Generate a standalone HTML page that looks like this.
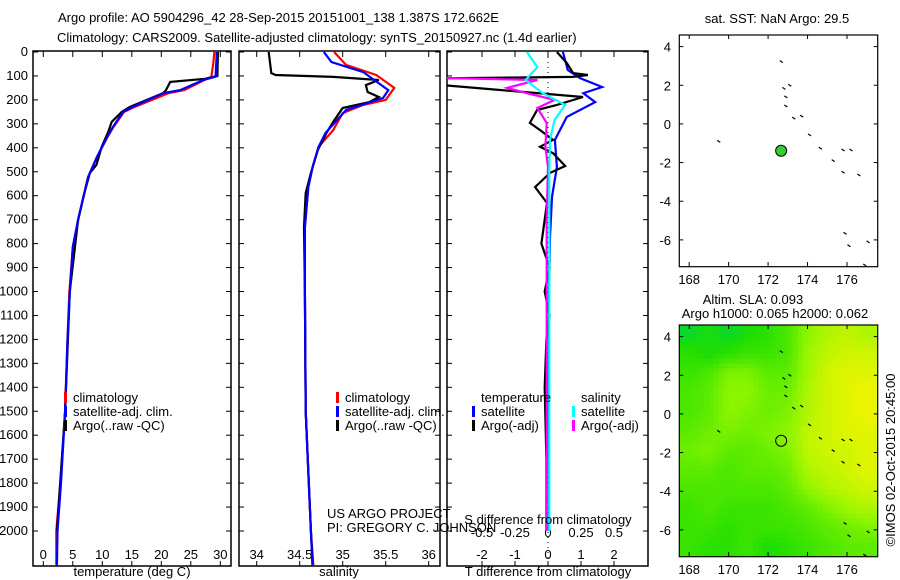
<!DOCTYPE html>
<html><head><meta charset="utf-8"><style>
body{margin:0;background:#fff}
svg{display:block;font-family:"Liberation Sans",sans-serif;font-size:13px}
</style></head><body>
<svg id="s" width="900" height="580" viewBox="0 0 900 580">
<text x="58" y="22">Argo profile: AO 5904296_42 28-Sep-2015 20151001_138 1.387S 172.662E</text>
<text x="57" y="42">Climatology: CARS2009. Satellite-adjusted climatology: synTS_20150927.nc (1.4d earlier)</text>
<g id="g"></g>
</svg>
<script>
// ---------- data ----------
const tDepth=[0,50,103,117,159,172,229,250,313,355,438,522,605,701,814,1006,1200,1500,1800,2000,2150];
const tSat=[29.4,29.3,29.2,27.1,23.2,20.3,15.2,13.5,11.8,10.8,9.1,7.6,6.8,5.9,5.0,4.5,4.1,3.7,3.0,2.4,2.3];
const tClim=[29.0,28.8,28.5,27.3,23.9,21.2,15.5,13.7,11.9,10.9,9.1,7.6,6.8,5.9,5.0,4.4,4.1,3.7,2.9,2.2,2.2];
const argoTDepth=[0,100,112,125,159,172,229,250,292,334,396,472,505,576,700,1000,1500,2000];
const argoT=[29.6,29.5,27.4,21.5,20.8,20.3,14.7,13.3,11.6,11.0,9.9,9.0,7.9,7.1,5.9,4.5,3.7,2.3];
const sArgoDepth=[0,88,96,104,117,138,167,188,209,234,292,338,409,505,589,731,1000,1500,2000,2150];
const sArgo=[34.14,34.17,34.22,34.89,35.42,35.27,35.29,35.42,35.31,35.0,34.89,34.81,34.71,34.63,34.57,34.55,34.56,34.57,34.63,34.65];
const sDepth=[0,54,96,150,200,221,255,326,396,480,564,731,1000,1500,2000,2150];
const sClim=[34.9,35.04,35.39,35.6,35.5,35.24,35.0,34.89,34.72,34.65,34.6,34.56,34.56,34.57,34.63,34.66];
const sSatDepth=[0,42,84,159,192,242,338,396,480,564,731,1000,1500,2000,2150];
const sSat=[34.78,34.87,35.24,35.53,35.47,35.04,34.8,34.72,34.65,34.6,34.56,34.56,34.57,34.63,34.65];
const dTSatDepth=[0,75,109,146,172,209,271,367,480,605,772,1000,1500,2000];
const dTSat=[0.45,0.6,0.97,1.64,1.07,1.43,0.57,0.21,0.27,0.12,0.06,0.03,0.02,0.03];
const dTArgoDepth=[0,46,88,96,104,110,113,138,188,221,242,296,326,367,396,422,476,505,564,630,700,800,900,1000,1100,1200,1400,1700,2000];
const dTArgo=[0.27,0.57,0.76,1.21,0.76,-3.2,-3.2,-3.2,1.06,0.27,-0.33,-0.55,-0.24,0.15,-0.24,0.15,0.52,0.06,-0.39,-0.03,-0.1,-0.2,0.05,-0.1,0.05,-0.05,-0.1,-0.05,-0.05];
const dSSatDepth=[0,63,117,172,221,284,367,500,1000,1500,2000];
const dSSat=[-0.16,-0.08,-0.17,-0.04,0.13,0.05,0.015,0.01,0.01,0.01,0.01];
const dSArgoDepth=[0,100,109,117,150,172,200,234,296,396,480,700,1000,1500,2000];
const dSArgo=[-0.8,-0.8,-0.78,-0.08,-0.31,-0.16,0.05,-0.08,-0.01,-0.02,0,-0.01,-0.01,-0.01,-0.01];
const depthTicks=[0,100,200,300,400,500,600,700,800,900,1000,1100,1200,1300,1400,1500,1600,1700,1800,1900,2000];
const tTicks=[0,5,10,15,20,25,30];
const sTicks=[34,34.5,35,35.5,36];
const dTTicks=[-2,-1,0,1,2];
const dSTicks=[-0.5,-0.25,0,0.25,0.5];
const dSLabels=["-0.5","-0.25","0","0.25","0.5"];
const lonTicks=[168,170,172,174,176];
const latTicks=[4,2,0,-2,-4,-6];
const floatLon=172.662, floatLat=-1.387;
const islands=[[172.67,3.22],[172.8,1.84],[172.9,1.4],[173.1,2.0],[172.9,0.93],[173.3,0.3],[173.7,0.4],[174.1,-0.57],[174.65,-1.26],[175.3,-1.9],[175.8,-1.35],[176.2,-1.35],[175.8,-2.5],[176.6,-2.64],[175.9,-5.66],[176.1,-6.3],[177.07,-6.1],[176.9,-7.3],[169.5,-0.9]];
const sla=[
[0.25,0.3,0.25,0.3,0.35,0.45,0.65,0.75,0.8,0.75],
[0.35,0.3,0.35,0.4,0.4,0.45,0.7,0.8,0.85,0.85],
[0.4,0.45,0.6,0.6,0.5,0.5,0.7,0.85,0.9,0.9],
[0.45,0.5,0.65,0.65,0.55,0.55,0.75,0.85,0.9,0.95],
[0.45,0.5,0.65,0.6,0.55,0.6,0.75,0.85,0.9,0.95],
[0.5,0.55,0.6,0.55,0.6,0.65,0.8,0.85,0.9,0.9],
[0.55,0.6,0.5,0.5,0.55,0.6,0.8,0.85,0.85,0.9],
[0.5,0.5,0.45,0.5,0.5,0.55,0.75,0.8,0.85,0.9],
[0.45,0.45,0.45,0.45,0.45,0.5,0.65,0.75,0.8,0.85],
[0.4,0.45,0.4,0.4,0.4,0.45,0.5,0.6,0.7,0.75],
[0.4,0.4,0.35,0.4,0.4,0.4,0.45,0.5,0.55,0.6],
[0.4,0.35,0.35,0.4,0.3,0.35,0.4,0.45,0.5,0.5]];
// ---------- drawing ----------
const NS="http://www.w3.org/2000/svg", G=document.getElementById('g');
function el(t,a,p){const e=document.createElementNS(NS,t);for(const k in a)e.setAttribute(k,a[k]);(p||G).appendChild(e);return e;}
function txt(x,y,s,anchor,p){const e=el('text',{x:x,y:y,'text-anchor':anchor||'start'},p);e.textContent=s;return e;}
const TOP=52,BOT=566;
const yD=d=>TOP+d*0.2395;
const panels=[
 {x0:33,x1:231,fx:v=>43.3+v*5.9,name:'temperature-panel'},
 {x0:239,x1:440,fx:v=>256.7+(v-34)*86,name:'salinity-panel'},
 {x0:447,x1:648,fx:v=>548+v*33,name:'difference-panel'}];
const defs=el('defs',{});
panels.forEach((p,i)=>{const c=el('clipPath',{id:'c'+i},defs);el('rect',{x:p.x0,y:TOP-1,width:p.x1-p.x0,height:BOT-TOP+1},c);});
function line(pi,xs,ds,fx,color,name){
  const pts=xs.map((v,i)=>fx(v).toFixed(1)+','+yD(ds[i]).toFixed(1)).join(' ');
  const e=el('polyline',{points:pts,fill:'none',stroke:color,'stroke-width':2.2,'clip-path':'url(#c'+pi+')'});
  
  
}
panels.forEach((p,i)=>{
  const f=el('rect',{x:p.x0,y:TOP-1,width:p.x1-p.x0,height:BOT-TOP+1,fill:'none',stroke:'#000','stroke-width':1.5});
  
  
  depthTicks.forEach(d=>{el('line',{x1:p.x0,x2:p.x0+5,y1:yD(d),y2:yD(d),stroke:'#000'});el('line',{x1:p.x1-5,x2:p.x1,y1:yD(d),y2:yD(d),stroke:'#000'});});
});
depthTicks.forEach(d=>{const t=txt(28,yD(d)+4,String(d),'end');});
function xticks(vals,labels,fx,ly){vals.forEach((v,i)=>{const x=fx(v);el('line',{x1:x,x2:x,y1:TOP-1,y2:TOP+5,stroke:'#000'});el('line',{x1:x,x2:x,y1:BOT-5,y2:BOT,stroke:'#000'});const t=txt(x,ly,labels[i],'middle');});}
xticks(tTicks,tTicks.map(String),panels[0].fx,559);
xticks(sTicks,sTicks.map(String),panels[1].fx,559);
const dsfx=v=>548+v*4*33;
xticks(dTTicks,dTTicks.map(String),panels[2].fx,559);
dSTicks.forEach((v,i)=>{const t=txt(dsfx(v),537,dSLabels[i],'middle');});
el('line',{x1:548,x2:548,y1:TOP,y2:BOT,stroke:'#000','stroke-dasharray':'1,4','clip-path':'url(#c2)'});
line(0,tClim,tDepth,panels[0].fx,'#f00','temperature-climatology-line');
line(0,argoT,argoTDepth,panels[0].fx,'#000','temperature-argo-line');
line(0,tSat,tDepth,panels[0].fx,'#00f','temperature-satellite-line');
line(1,sClim,sDepth,panels[1].fx,'#f00','salinity-climatology-line');
line(1,sArgo,sArgoDepth,panels[1].fx,'#000','salinity-argo-line');
line(1,sSat,sSatDepth,panels[1].fx,'#00f','salinity-satellite-line');
line(2,dTSat,dTSatDepth,panels[2].fx,'#00f','t-diff-satellite-line');
line(2,dTArgo,dTArgoDepth,panels[2].fx,'#000','t-diff-argo-line');
line(2,dSArgo,dSArgoDepth,dsfx,'#f0f','s-diff-argo-line');
line(2,dSSat,dSSatDepth,dsfx,'#0ff','s-diff-satellite-line');
[[132,576,'temperature (deg C)','x-axis-title-temperature'],[339,576,'salinity','x-axis-title-salinity'],[548,576,'T difference from climatology','x-axis-title-t-diff'],[548,524,'S difference from climatology','x-axis-title-s-diff']].forEach(a=>{const t=txt(a[0],a[1],a[2],'middle');});
function leg(x,y,color,label,name){
  if(color){el('rect',{x:x-9,y:y-10,width:3,height:11,fill:color});}
  const t=txt(x,y,label);
  
  
}
leg(73,402,'#f00','climatology','legend-climatology');
leg(73,416,'#00f','satellite-adj. clim.','legend-satellite-adj');
leg(73,430,'#000','Argo(..raw -QC)','legend-argo');
leg(345,402,'#f00','climatology','legend-sal-climatology');
leg(345,416,'#00f','satellite-adj. clim.','legend-sal-satellite-adj');
leg(345,430,'#000','Argo(..raw -QC)','legend-sal-argo');
leg(481,402,null,'temperature','legend-temperature-header');
leg(481,416,'#00f','satellite','legend-t-satellite');
leg(481,430,'#000','Argo(-adj)','legend-t-argo');
leg(581,402,null,'salinity','legend-salinity-header');
leg(581,416,'#0ff','satellite','legend-s-satellite');
leg(581,430,'#f0f','Argo(-adj)','legend-s-argo');
leg(327,518,null,'US ARGO PROJECT','project-label');
leg(327,532,null,'PI: GREGORY C. JOHNSON','pi-label');
// ---------- maps ----------
const MX0=679.3,MX1=877.7,LON0=167.5,LAT0=4.6;
const xL=lon=>MX0+(lon-LON0)*19.73;
function slaAt(r,c){r=Math.max(0,Math.min(11,r));c=Math.max(0,Math.min(9,c));const r0=Math.floor(r),c0=Math.floor(c),r1=Math.min(11,r0+1),c1=Math.min(9,c0+1),fr=r-r0,fc=c-c0;
  return sla[r0][c0]*(1-fr)*(1-fc)+sla[r0][c1]*(1-fr)*fc+sla[r1][c0]*fr*(1-fc)+sla[r1][c1]*fr*fc;}
function col(v){const r=Math.max(0,Math.min(235,(v-0.22)*330)),g=Math.min(245,200+v*70),b=Math.max(0,(0.32-v)*600);return `rgb(${r|0},${g|0},${b|0})`;}
function drawMap(oy,name,heat){
  const yL=lat=>oy+35+(LAT0-lat)*19.33;
  const cp=el('clipPath',{id:'m'+oy},defs);el('rect',{x:MX0,y:oy+35,width:MX1-MX0,height:231.7},cp);
  const mg=el('g',{'clip-path':'url(#m'+oy+')'});
  if(heat){
    const N=4;
    for(let r=0;r<12*N;r++)for(let c=0;c<10*N;c++){
      const v=slaAt((r+0.5)/N-0.5,(c+0.5)/N-0.5);
      const cell=el('rect',{x:xL(LON0+c/N)-0.2,y:yL(LAT0-r/N)-0.2,width:19.73/N+0.5,height:19.33/N+0.5,fill:col(v)},mg);
      
      
    }
  }
  islands.forEach(p=>{const s=el('line',{x1:xL(p[0])-1.5,y1:yL(p[1])-1,x2:xL(p[0])+1.5,y2:yL(p[1])+1,stroke:'#000','stroke-width':1.2},mg);});
  const fc=el('circle',{cx:xL(floatLon),cy:yL(floatLat),r:5.5,fill:heat?'none':'#3c3',stroke:'#000','stroke-width':1});
  
  
  const fr=el('rect',{x:MX0,y:oy+35,width:MX1-MX0,height:231.7,fill:'none',stroke:'#000','stroke-width':1.2});
  
  
  lonTicks.forEach(l=>{const x=xL(l);el('line',{x1:x,x2:x,y1:oy+35,y2:oy+39,stroke:'#000'});el('line',{x1:x,x2:x,y1:oy+262,y2:oy+266.7,stroke:'#000'});const t=txt(x,oy+284,String(l),'middle');});
  latTicks.forEach(l=>{const y=yL(l);el('line',{x1:MX0,x2:MX0+4,y1:y,y2:y,stroke:'#000'});el('line',{x1:MX1-4,x2:MX1,y1:y,y2:y,stroke:'#000'});const t=txt(671,y+5,String(l),'end');});
}
drawMap(0,'sst-map-frame',false);
drawMap(290,'sla-map-frame',true);
[[777,23,'sat. SST: NaN Argo: 29.5','sst-map-title'],[753,304,'Altim. SLA: 0.093','sla-map-title'],[775,318,'Argo h1000: 0.065 h2000: 0.062','argo-height-title']].forEach(a=>{const t=txt(a[0],a[1],a[2],'middle');});
const cr=txt(0,0,'©IMOS 02-Oct-2015 20:45:00','middle');
cr.setAttribute('transform','translate(895,460) rotate(-90)');


</script>
</body></html>
